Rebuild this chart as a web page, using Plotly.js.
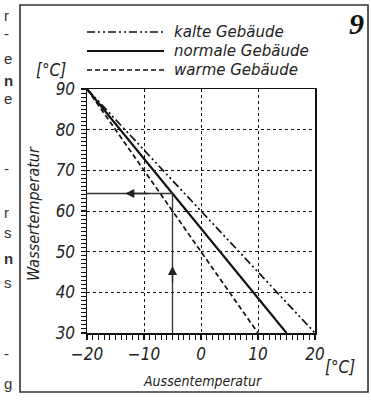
<!DOCTYPE html>
<html><head><meta charset="utf-8">
<script src="https://cdn.plot.ly/plotly-3.0.1.min.js"></script>
<style>html,body{margin:0;padding:0;background:#fff}#c{width:371px;height:402px}</style>
</head><body><div id="c"></div>
<script>
// ---- data ----
const seriesNames = ['kalte Gebäude', 'normale Gebäude', 'warme Gebäude'];
const kalteX = [-20, 20];   const kalteY = [90, 30];
const normalX = [-20, 15];  const normalY = [90, 30];
const warmX = [-20, 10];    const warmY = [90, 30];
// example reading: outside -5 °C -> water 64.3 °C
const readX = [-5, -5, -20];
const readY = [30, 64.3, 64.3];
const xTitle = 'Aussentemperatur';
const yTitle = 'Wassertemperatur';
const unitLabel = '[°C]';
const figNumber = '9';
// fragments of the neighbouring page text at the left edge
const fragChars = ['r', '-', 'e', 'n', 'e', '-', 'r', 's', 'n', 's', '-', 'g'];
const fragY = [15, 34, 59, 80, 98, 168, 212, 232, 258, 282, 353, 383];
const fragBold = [false, false, false, true, false, false, false, false, true, false, false, false];

// ---- layout helpers (pixel -> paper) ----
const L = 87, R = 56, T = 89, B = 69, W = 371, H = 402;
const PW = W - L - R, PH = H - T - B;
const px = v => (v - L) / PW;
const py = v => (H - B - v) / PH;

const tickFont = {family: '"Liberation Sans Narrow", "DejaVu Sans Condensed", sans-serif', size: 17, color: '#222', style: 'italic'};
const textFont = {family: '"DejaVu Sans", sans-serif', size: 15, color: '#222', style: 'italic'};
const titleFont = {family: '"DejaVu Sans Condensed", "DejaVu Sans", sans-serif', size: 14, color: '#222', style: 'italic'};
const yTitleFont = Object.assign({}, titleFont, {size: 16});

const dashes = ['8px,3px,2px,3px,2px,3px', 'solid', '5px,3px'];
const widths = [1.7, 2.2, 1.7];

const traces = [
  {x: kalteX, y: kalteY, name: seriesNames[0], mode: 'lines', line: {color: '#111', width: widths[0], dash: dashes[0]}},
  {x: normalX, y: normalY, name: seriesNames[1], mode: 'lines', line: {color: '#111', width: widths[1], dash: dashes[1]}},
  {x: warmX, y: warmY, name: seriesNames[2], mode: 'lines', line: {color: '#111', width: widths[2], dash: dashes[2]}},
  {x: readX, y: readY, mode: 'lines', line: {color: '#333', width: 1.3}, showlegend: false}
];

const shapes = [];
const annotations = [];
const note = (text, x, y, font, extra) => annotations.push(Object.assign({text: text, xref: 'paper', yref: 'paper',
  x: px(x), y: py(y), xanchor: 'center', yanchor: 'middle', showarrow: false, font: font}, extra || {}));
// frame around the figure
shapes.push({type: 'rect', xref: 'paper', yref: 'paper', x0: px(20), x1: px(368), y0: py(392), y1: py(5),
  line: {color: '#333', width: 1.6}, fillcolor: 'rgba(0,0,0,0)'});
// legend (drawn manually to get long line samples)
const legY = [32, 51, 70];
seriesNames.forEach((n, i) => {
  shapes.push({type: 'line', xref: 'paper', yref: 'paper', x0: px(87), x1: px(164), y0: py(legY[i]), y1: py(legY[i]),
    line: {color: '#111', width: widths[i], dash: dashes[i]}});
  note(n, 172, legY[i], textFont, {xanchor: 'left'});
});
// arrows on the reading line
annotations.push({x: -5, y: 46.5, ax: -5, ay: 42, xref: 'x', yref: 'y', axref: 'x', ayref: 'y', text: '',
  showarrow: true, arrowhead: 2, arrowsize: 1.4, arrowwidth: 1.3, arrowcolor: '#222', standoff: 0});
annotations.push({x: -13.3, y: 64.3, ax: -9, ay: 64.3, xref: 'x', yref: 'y', axref: 'x', ayref: 'y', text: '',
  showarrow: true, arrowhead: 2, arrowsize: 1.4, arrowwidth: 1.3, arrowcolor: '#222', standoff: 0});
// titles and units
note(xTitle, 202, 381, titleFont);
note(yTitle, 33, 214, yTitleFont, {textangle: -90});
note(unitLabel, 51, 70, tickFont);
note(unitLabel, 340, 367, tickFont);
note(figNumber, 356, 23, {family: '"Liberation Serif", serif', size: 30, color: '#111', weight: 'bold', style: 'italic'});
// left-edge fragments
fragChars.forEach((c, i) => {
  note(fragBold[i] ? '<b>' + c + '</b>' : c, 2, fragY[i], {family: '"Liberation Sans", sans-serif', size: 15, color: '#333'}, {xanchor: 'left'});
});

const axBase = {
  showline: true, linecolor: '#111', linewidth: 1.5, mirror: true,
  ticks: 'outside', ticklen: 5, tickwidth: 1.2, tickcolor: '#111',
  showgrid: true, gridcolor: '#111', gridwidth: 1, griddash: 'dot',
  zeroline: false, tickfont: tickFont, fixedrange: true,
  minor: {dtick: 1, tick0: 0, ticks: 'outside', ticklen: 5, tickwidth: 1, tickcolor: '#111', showgrid: false}
};
const overBase = {ticks: 'outside', ticklen: 10, tickwidth: 1.3, tickcolor: '#111', showticklabels: false,
  showgrid: false, showline: false, zeroline: false, fixedrange: true, dtick: 5, tick0: 0};

const layout = {
  width: W, height: H, margin: {l: L, r: R, t: T, b: B, pad: 0},
  paper_bgcolor: '#fff', plot_bgcolor: '#fff', showlegend: false,
  xaxis: Object.assign({}, axBase, {range: [-20, 20], dtick: 10, tick0: 0}),
  yaxis: Object.assign({}, axBase, {range: [30, 90], dtick: 10, tick0: 0, ticklabelstandoff: 2}),
  xaxis2: Object.assign({}, overBase, {overlaying: 'x', anchor: 'y', side: 'bottom', range: [-20, 20]}),
  yaxis2: Object.assign({}, overBase, {overlaying: 'y', anchor: 'x', side: 'left', range: [30, 90]}),
  shapes: shapes, annotations: annotations
};

Plotly.newPlot('c', traces, layout, {displayModeBar: false, staticPlot: true});
</script>
</body></html>
